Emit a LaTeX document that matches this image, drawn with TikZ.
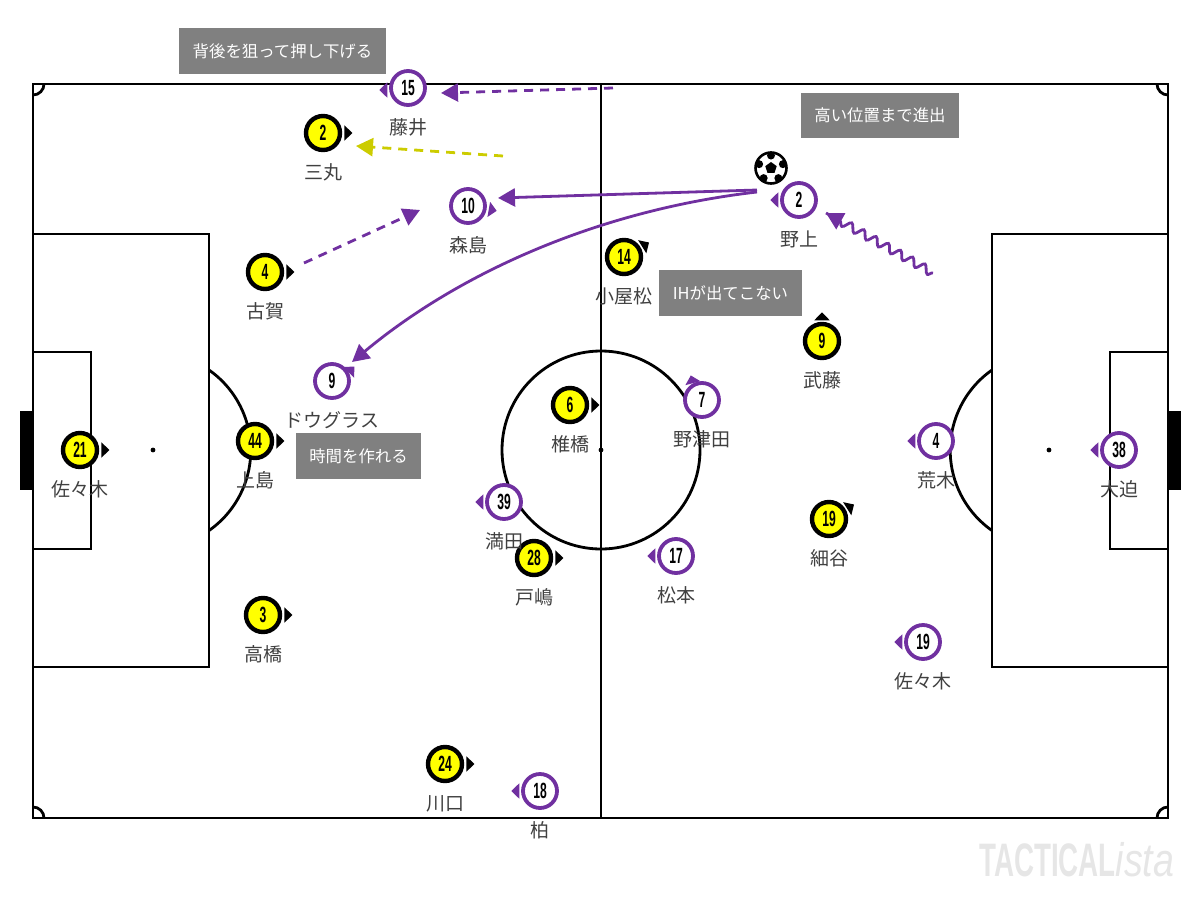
\documentclass[tikz,border=0pt]{standalone}
\usepackage{fontspec}
\setmainfont{Noto Sans CJK JP}
\newfontfamily\numfont{Liberation Sans}
\usetikzlibrary{arrows.meta, calc, decorations.pathmorphing, positioning, shapes.geometric}
\definecolor{tvpurple}{HTML}{7030A0}
\definecolor{tvyellow}{HTML}{FFFF00}
\definecolor{tvolive}{HTML}{CCCC00}
\definecolor{tvgrey}{HTML}{808080}
\definecolor{tvname}{HTML}{404040}
\definecolor{tvmark}{HTML}{E6E6E6}

\begin{document}
\begin{tikzpicture}[
		x=1pt, y=-1pt,
		pitch/.style={draw=black, line width=2.8pt},
		home/.style={circle, draw=black, fill=tvyellow, line width=4.4pt, inner sep=0pt, minimum size=34pt, font=\numfont\bfseries\fontsize{22}{22}\selectfont},
		away/.style={circle, draw=tvpurple, fill=white, line width=3.8pt, inner sep=0pt, minimum size=34pt, font=\numfont\bfseries\fontsize{22}{22}\selectfont},
		tip/.style={isosceles triangle, isosceles triangle apex angle=88, inner sep=0pt, minimum height=8pt, minimum width=15pt, node distance=2pt},
		hometip/.style={tip, fill=black},
		awaytip/.style={tip, fill=tvpurple},
		player/.style={text=tvname, inner sep=0pt, text height=15pt, text depth=3pt, node distance=12pt, font=\fontsize{19}{21}\selectfont},
		note/.style={fill=tvgrey, text=white, inner sep=0pt, font=\fontsize{16.4}{18}\selectfont},
		run/.style={line width=2.8pt, -{Triangle[length=17pt, width=18pt]}}
		]
		\useasboundingbox (0,0) rectangle (1200,900);
		% pitch
		\fill (20,411) rectangle (33,490);
		\fill (1168,411) rectangle (1181,490);
		\draw [pitch] (33,84) rectangle (1168,818);
		\draw [pitch] (601,84) -- (601,818);
		\draw [pitch] (601,450) circle (99);
		\draw [pitch] (33,234) rectangle (209,667);
		\draw [pitch] (33,352) rectangle (91,549);
		\draw [pitch] (992,234) rectangle (1168,667);
		\draw [pitch] (1110,352) rectangle (1168,549);
		\draw [pitch] (209,370) arc [start angle=-55, end angle=55, x radius=98, y radius=98];
		\draw [pitch] (992,370) arc [start angle=235, end angle=125, x radius=98, y radius=98];
		\draw [pitch] (44,84) arc [start angle=0, end angle=90, x radius=11, y radius=11];
		\draw [pitch] (1157,84) arc [start angle=180, end angle=90, x radius=11, y radius=11];
		\draw [pitch] (44,818) arc [start angle=0, end angle=-90, x radius=11, y radius=11];
		\draw [pitch] (1157,818) arc [start angle=180, end angle=270, x radius=11, y radius=11];
		\fill (153,450) circle (2.4);
		\fill (601,450) circle (2.4);
		\fill (1049,450) circle (2.4);

		% home side
		\node [home] (gk) at (80,450) {\scalebox{.55}[1]{21}};
		\node [hometip] (gktip) [right=of gk] {};
		\node [player] (gkname) [below=of gk] {佐々木};
		\node [home] (ueshima) at (255,441) {\scalebox{.55}[1]{44}};
		\node [hometip] (ueshimatip) [right=of ueshima] {};
		\node [player] (ueshimaname) [below=of ueshima] {上島};
		\node [home] (koga) at (265,272) {\scalebox{.55}[1]{4}};
		\node [hometip] (kogatip) [right=of koga] {};
		\node [player] (koganame) [below=of koga] {古賀};
		\node [home] (sanmaru) at (323,133) {\scalebox{.55}[1]{2}};
		\node [hometip] (sanmarutip) [right=of sanmaru] {};
		\node [player] (sanmaruname) [below=of sanmaru] {三丸};
		\node [home] (takahashi) at (263,615) {\scalebox{.55}[1]{3}};
		\node [hometip] (takahashitip) [right=of takahashi] {};
		\node [player] (takahashiname) [below=of takahashi] {高橋};
		\node [home] (shiihashi) at (570,405) {\scalebox{.55}[1]{6}};
		\node [hometip] (shiihashitip) [right=of shiihashi] {};
		\node [player] (shiihashiname) [below=of shiihashi] {椎橋};
		\node [home] (toshima) at (534,558) {\scalebox{.55}[1]{28}};
		\node [hometip] (toshimatip) [right=of toshima] {};
		\node [player] (toshimaname) [below=of toshima] {戸嶋};
		\node [home] (kawaguchi) at (445,764) {\scalebox{.55}[1]{24}};
		\node [hometip] (kawaguchitip) [right=of kawaguchi] {};
		\node [player] (kawaguchiname) [below=of kawaguchi] {川口};
		\node [home] (koyamatsu) at (624,257) {\scalebox{.55}[1]{14}};
		\node [hometip, rotate=32] (koyamatsutip) at (645,245) {};
		\node [player] (koyamatsuname) [below=of koyamatsu] {小屋松};
		\node [home] (muto) at (822,341) {\scalebox{.55}[1]{9}};
		\node [hometip, rotate=90] (mutotip) at (822,317) {};
		\node [player] (mutoname) [below=of muto] {武藤};
		\node [home] (hosoya) at (829,519) {\scalebox{.55}[1]{19}};
		\node [hometip, rotate=32] (hosoyatip) at (850,507) {};
		\node [player] (hosoyaname) [below=of hosoya] {細谷};

		% away side
		\node [away] (osako) at (1119,450) {\scalebox{.55}[1]{38}};
		\node [awaytip, rotate=180] (osakotip) at (1095,450) {};
		\node [player] (osakoname) [below=of osako] {大迫};
		\node [away] (araki) at (936,441) {\scalebox{.55}[1]{4}};
		\node [awaytip, rotate=180] (arakitip) at (912,441) {};
		\node [player] (arakiname) [below=of araki] {荒木};
		\node [away] (nogami) at (799,200) {\scalebox{.55}[1]{2}};
		\node [awaytip, rotate=180] (nogamitip) at (775,200) {};
		\node [player] (nogaminame) [below=of nogami] {野上};
		\node [away] (sasaki) at (923,642) {\scalebox{.55}[1]{19}};
		\node [awaytip, rotate=180] (sasakitip) at (899,642) {};
		\node [player] (sasakiname) [below=of sasaki] {佐々木};
		\node [away] (matsumoto) at (676,556) {\scalebox{.55}[1]{17}};
		\node [awaytip, rotate=180] (matsumototip) at (652,556) {};
		\node [player] (matsumotoname) [below=of matsumoto] {松本};
		\node [away] (mitsuta) at (504,502) {\scalebox{.55}[1]{39}};
		\node [awaytip, rotate=180] (mitsutatip) at (480,502) {};
		\node [player] (mitsutaname) [below=of mitsuta] {満田};
		\node [away] (notsuda) at (702,400) {\scalebox{.55}[1]{7}};
		\node [awaytip, rotate=105] (notsudatip) at (692,380) {};
		\node [player] (notsudaname) [below=of notsuda] {野津田};
		\node [away] (morishima) at (468,206) {\scalebox{.55}[1]{10}};
		\node [awaytip, rotate=-10] (morishimatip) at (492,210) {};
		\node [player] (morishimaname) [below=of morishima] {森島};
		\node [away] (fujii) at (408,88) {\scalebox{.55}[1]{15}};
		\node [awaytip, rotate=180] (fujiitip) at (384,90) {};
		\node [player] (fujiiname) [below=of fujii] {藤井};
		\node [away] (douglas) at (332,381) {\scalebox{.55}[1]{9}};
		\node [awaytip, rotate=45] (douglastip) at (351,370) {};
		\node [player] (douglasname) [below=of douglas] {ドウグラス};
		\node [away] (kashiwa) at (540,791) {\scalebox{.55}[1]{18}};
		\node [awaytip, rotate=180] (kashiwatip) at (516,791) {};
		\node [player] (kashiwaname) [below=of kashiwa] {柏};

		% notes
		\node [note, minimum width=207pt, minimum height=46pt] (note1) at (282.5,51) {背後を狙って押し下げる};
		\node [note, minimum width=158pt, minimum height=45pt] (note2) at (880,115.5) {高い位置まで進出};
		\node [note, minimum width=143pt, minimum height=46pt] (note3) at (730.5,293) {IHが出てこない};
		\node [note, minimum width=125pt, minimum height=46pt] (note4) at (358.5,456) {時間を作れる};

		% ball
		\node [circle, draw=black, fill=white, line width=2.6pt, inner sep=0pt, minimum size=31pt] (ball) at (771,168) {};
		\node [regular polygon, regular polygon sides=5, fill=black, inner sep=0pt, minimum size=12pt] (ballcore) at (ball) {};
		\foreach \a in {-90,-18,54,126,198}
			\fill (ball.center) ++(\a:12.5) circle (4);

		% runs and passes
		\coordinate (pass) at (757,190);
		\coordinate (pass2) at (757,192);
		\coordinate (fujiifrom) at (613,88);
		\coordinate (fujiito) at (441,93);
		\coordinate (sanmarufrom) at (503,156);
		\coordinate (sanmaruto) at (356,146);
		\coordinate (kogafrom) at (304,263);
		\coordinate (kogato) at (420,210);
		\coordinate (morishimato) at (498,198);
		\coordinate (douglasto) at (352,362);
		\coordinate (nogamifrom) at (933,273);
		\coordinate (nogamito) at (826,213);
		\draw [run, tvpurple, dash pattern=on 9pt off 7pt] (fujiifrom) -- (fujiito);
		\draw [run, tvolive, dash pattern=on 9pt off 7pt] (sanmarufrom) -- (sanmaruto);
		\draw [run, tvpurple, dash pattern=on 9pt off 7pt] (kogafrom) -- (kogato);
		\draw [run, tvpurple] (pass) -- (morishimato);
		\draw [run, tvpurple] (pass2) .. controls (600,210) and (460,272) .. (douglasto);
		\draw [tvpurple, line width=2.8pt, decorate, decoration={snake, amplitude=4pt, segment length=14pt, post length=10pt}] (nogamifrom) -- (nogamito);
		\draw [run, tvpurple] ($(nogamito)!12pt!(nogamifrom)$) -- (nogamito);

		% logo
		\node [inner sep=0pt, anchor=base west, text=tvmark] (logo) at (979,876) {\fontsize{47}{47}\selectfont\numfont\scalebox{.59}[1]{\bfseries TACTICAL}\scalebox{.8}[1]{\itshape ista}};
	\end{tikzpicture}
\end{document}
